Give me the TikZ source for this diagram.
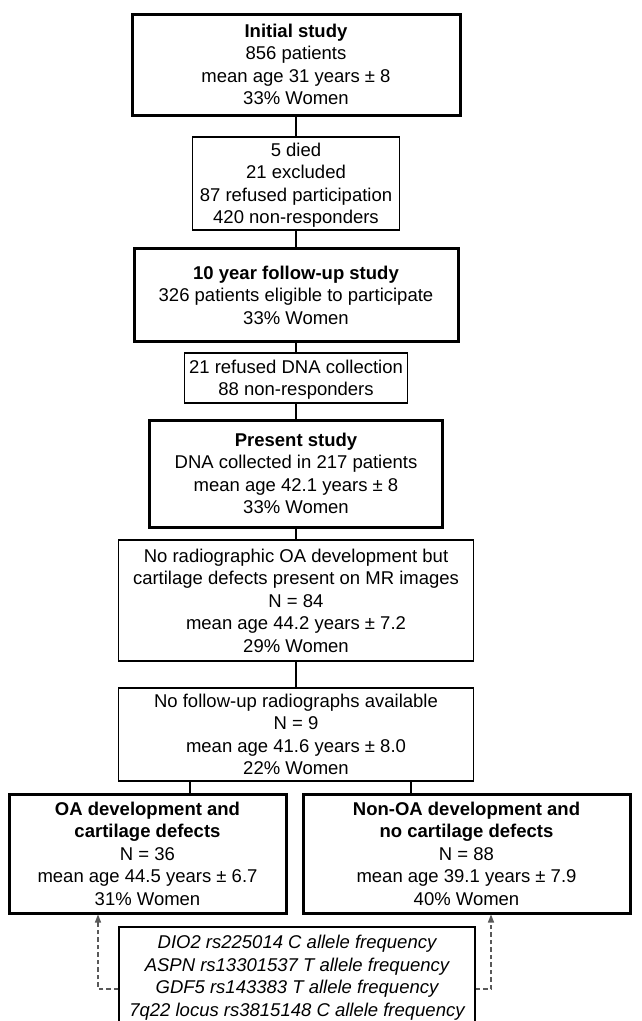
\documentclass[tikz,border=0pt]{standalone}
\usepackage{fontspec}
\setmainfont{Liberation Sans}
\usetikzlibrary{arrows.meta}
\newcommand\fsz{\fontsize{18.5}{22.5}\selectfont}
\newcommand\lst{\rule[-4.6pt]{0pt}{22.5pt}}
\tikzset{
  boxthin/.style={draw=black, line width=1.3pt, inner sep=0pt, align=center, font=\fsz, fill=white},
  boxthick/.style={boxthin, line width=3pt},
  conn/.style={draw=black, line width=1.3pt},
  dasharrow/.style={draw=black!65, line width=1.2pt, dash pattern=on 4.5pt off 3pt, -{Triangle[length=8pt,width=6pt]}},
}
\begin{document}
\begin{tikzpicture}[x=1pt,y=-1pt]
\useasboundingbox (0,0) rectangle (641,1021);
\clip (0,0) rectangle (641,1021);
\fill[white] (0,0) rectangle (641,1021);

\node[boxthick, minimum width=328pt, minimum height=101pt] (b1) at (296,64.5)
  {\lst\textbf{Initial study}\\\lst 856 patients\\\lst mean age 31 years ± 8\\\lst 33\% Women};
\node[boxthin, minimum width=207pt, minimum height=93pt] (b2) at (296,183.5)
  {\lst 5 died\\\lst 21 excluded\\\lst 87 refused participation\\\lst 420 non-responders};
\node[boxthick, minimum width=324pt, minimum height=93pt] (b3) at (296,295)
  {\lst\textbf{10 year follow-up study}\\\lst 326 patients eligible to participate\\\lst 33\% Women};
\node[boxthin, minimum width=223pt, minimum height=50pt] (b4) at (296,378)
  {\lst 21 refused DNA collection\\\lst 88 non-responders};
\node[boxthick, minimum width=293pt, minimum height=107pt] (b5) at (296,473.5)
  {\lst\textbf{Present study}\\\lst DNA collected in 217 patients\\\lst mean age 42.1 years ± 8\\\lst 33\% Women};
\node[boxthin, minimum width=355pt, minimum height=121pt] (b6) at (296,600.5)
  {\lst No radiographic OA development but\\\lst cartilage defects present on MR images\\\lst N = 84\\\lst mean age 44.2 years ± 7.2\\\lst 29\% Women};
\node[boxthin, minimum width=355pt, minimum height=93pt] (b7) at (296,734.5)
  {\lst No follow-up radiographs available\\\lst N = 9\\\lst mean age 41.6 years ± 8.0\\\lst 22\% Women};
\node[boxthick, minimum width=277pt, minimum height=119pt] (b8) at (147.5,853.5)
  {\lst\textbf{OA development and}\\\lst\textbf{cartilage defects}\\\lst N = 36\\\lst mean age 44.5 years ± 6.7\\\lst 31\% Women};
\node[boxthick, minimum width=327pt, minimum height=119pt] (b9) at (466.5,853.5)
  {\lst\textbf{Non-OA development and}\\\lst\textbf{no cartilage defects}\\\lst N = 88\\\lst mean age 39.1 years ± 7.9\\\lst 40\% Women};
\node[boxthin, minimum width=356pt, minimum height=98pt, font=\fsz\itshape] (b10) at (297,976)
  {\lst DIO2 rs225014 C allele frequency\\\lst ASPN rs13301537 T allele frequency\\\lst GDF5 rs143383 T allele frequency\\\lst 7q22 locus rs3815148 C allele frequency};

\draw[conn] (b1.south) -- (b2.north);
\draw[conn] (b2.south) -- (b3.north);
\draw[conn] (b3.south) -- (b4.north);
\draw[conn] (b4.south) -- (b5.north);
\draw[conn] (b5.south) -- (b6.north);
\draw[conn] (b6.south) -- (b7.north);
\coordinate (c8) at (190,0);
\coordinate (c9) at (411,0);
\draw[conn] (b7.south -| c8) -- (b8.north -| c8);
\draw[conn] (b7.south -| c9) -- (b9.north -| c9);

\coordinate (dl) at (98,989);
\coordinate (dr) at (491,989);
\draw[dasharrow] (b10.west |- dl) -| (b8.south -| dl);
\draw[dasharrow] (b10.east |- dr) -| (b9.south -| dr);
\end{tikzpicture}
\end{document}
